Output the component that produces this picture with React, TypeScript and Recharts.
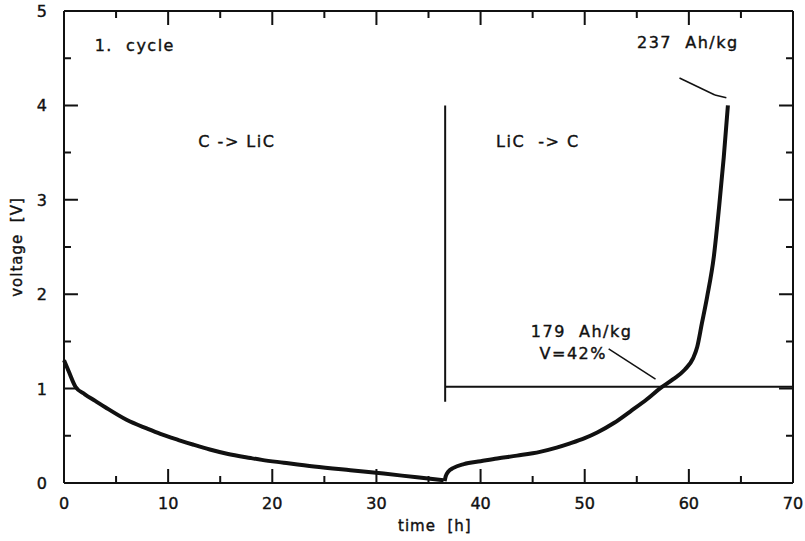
import React from 'react';
import { LineChart, Line, XAxis, YAxis, ReferenceLine } from 'recharts';

// first cycle: C -> LiC (discharge)
const dischargeTime = [0, 0.5, 1.1, 2, 3, 4, 6, 8, 9.25, 11, 12.45, 14, 15.65, 17.9, 19, 21.1, 24, 27.5, 30.7, 33.9, 36.45];
const dischargeVoltage = [1.3, 1.17, 1.02, 0.94, 0.87, 0.8, 0.67, 0.575, 0.52, 0.455, 0.405, 0.355, 0.31, 0.265, 0.245, 0.215, 0.175, 0.135, 0.1, 0.06, 0.03];

// LiC -> C (charge)
const chargeTime = [36.55, 36.65, 36.9, 37.4, 38.4, 40, 41.6, 43.5, 45.7, 47.3, 48.6, 50, 51.2, 52.8, 54.4, 56, 57.2, 58.5, 59.6, 60.4, 60.8, 61.25, 61.75, 62.4, 62.9, 63.35, 63.75];
const chargeVoltage = [0.02, 0.07, 0.12, 0.16, 0.2, 0.23, 0.26, 0.29, 0.33, 0.375, 0.42, 0.475, 0.535, 0.635, 0.76, 0.89, 1.0, 1.1, 1.2, 1.32, 1.44, 1.69, 1.97, 2.4, 2.92, 3.45, 4.0];

const xTicks = [0, 5, 10, 15, 20, 25, 30, 35, 40, 45, 50, 55, 60, 65, 70];
const yTicks = [0, 0.5, 1, 1.5, 2, 2.5, 3, 3.5, 4, 4.5, 5];

// marker lines (data units)
const switchLine = [{ x: 36.6, y: 0.86 }, { x: 36.6, y: 4.0 }];
const levelLine = [{ x: 36.6, y: 1.02 }, { x: 70, y: 1.02 }];
const leader237a = [{ x: 59.1, y: 4.29 }, { x: 62.5, y: 4.11 }];
const leader237b = [{ x: 62.5, y: 4.11 }, { x: 63.6, y: 4.08 }];
const leader179 = [{ x: 52.3, y: 1.42 }, { x: 56.8, y: 1.1 }];

// annotations
const noteTime = [6.8, 16.6, 45.5, 59.9, 49.7, 48.9];
const noteVoltage = [4.64, 3.62, 3.62, 4.67, 1.615, 1.38];
const noteText = ['1.  cycle', 'C -> LiC', 'LiC  -> C', '237  Ah/kg', '179  Ah/kg', 'V=42%'];

const discharge = dischargeTime.map((t, i) => ({ t, v: dischargeVoltage[i] }));
const charge = chargeTime.map((t, i) => ({ t, v: chargeVoltage[i] }));
const notes = noteTime.map((t, i) => ({ t, v: noteVoltage[i], text: noteText[i] }));

const X_MIN = 0, X_MAX = 70, Y_MIN = 0, Y_MAX = 5;
// inward tick lengths in axis units (~14px major, ~7px minor)
const X_TICK_MAJOR = 1.34, X_TICK_MINOR = 0.67;
const Y_TICK_MAJOR = 0.148, Y_TICK_MINOR = 0.074;

const xLen = (t: number) => (t % 10 === 0 ? Y_TICK_MAJOR : Y_TICK_MINOR);
const yLen = (v: number) => (Number.isInteger(v) ? X_TICK_MAJOR : X_TICK_MINOR);

// tick marks as broken polylines (null = gap)
const bottomTicks = xTicks.flatMap((t) => [{ t, v: Y_MIN }, { t, v: Y_MIN + xLen(t) }, { t, v: null }]);
const topTicks = xTicks.flatMap((t) => [{ t, v: Y_MAX }, { t, v: Y_MAX - xLen(t) }, { t, v: null }]);
const leftTicks = yTicks.flatMap((v) => [{ t: X_MIN, v }, { t: X_MIN + yLen(v), v }, { t: X_MIN, v: null }]);
const rightTicks = yTicks.flatMap((v) => [{ t: X_MAX, v }, { t: X_MAX - yLen(v), v }, { t: X_MAX, v: null }]);
const tickSets = [bottomTicks, topTicks, leftTicks, rightTicks];

const FONT = '"DejaVu Sans", sans-serif';
const INK = '#111';

const bottomLabel = (props: any) => {
  const { x, y, payload } = props;
  if (payload.value % 10 !== 0) return <g />;
  return (
    <text x={x} y={y + 26} textAnchor="middle" fontFamily={FONT} fontSize={16} fill={INK}
      stroke={INK} strokeWidth={0.4}>
      {payload.value}
    </text>
  );
};

const leftLabel = (props: any) => {
  const { x, y, payload } = props;
  if (!Number.isInteger(payload.value)) return <g />;
  return (
    <text x={x - 17} y={y + 6} textAnchor="end" fontFamily={FONT} fontSize={16} fill={INK}
      stroke={INK} strokeWidth={0.4}>
      {payload.value}
    </text>
  );
};

const noteDot = (p: any) => (
  <text key={p.index} x={p.cx} y={p.cy + 6} textAnchor="middle" fontFamily={FONT} fontSize={16}
    letterSpacing={1.5} fill={INK} stroke={INK} strokeWidth={0.4} style={{ whiteSpace: 'pre' }}>
    {p.payload.text}
  </text>
);

const titleStyle: React.CSSProperties = {
  position: 'absolute',
  fontFamily: FONT,
  fontSize: 15,
  letterSpacing: 1,
  color: INK,
  whiteSpace: 'pre',
  WebkitTextStroke: '0.4px #111',
  lineHeight: '18px',
};

export default function App() {
  return (
    <div style={{ position: 'absolute', left: 0, top: 0, width: 805, height: 541 }}>
      <LineChart width={805} height={541} margin={{ top: 11, right: 12, bottom: 28, left: 0 }}>
        <XAxis xAxisId="bottom" dataKey="t" type="number" domain={[X_MIN, X_MAX]} ticks={xTicks} interval={0}
          height={30} tickSize={0} tickMargin={0} tickLine={false}
          axisLine={{ stroke: INK, strokeWidth: 2 }} tick={bottomLabel} />
        <YAxis yAxisId="left" type="number" domain={[Y_MIN, Y_MAX]} ticks={yTicks} interval={0}
          width={64} tickSize={0} tickMargin={0} tickLine={false}
          axisLine={{ stroke: INK, strokeWidth: 2 }} tick={leftLabel} />

        {/* top and right frame */}
        <ReferenceLine xAxisId="bottom" yAxisId="left" y={Y_MAX} stroke={INK} strokeWidth={2} ifOverflow="visible" />
        <ReferenceLine xAxisId="bottom" yAxisId="left" x={X_MAX} stroke={INK} strokeWidth={2} ifOverflow="visible" />

        <ReferenceLine xAxisId="bottom" yAxisId="left" segment={switchLine} stroke={INK} strokeWidth={2} ifOverflow="visible" />
        <ReferenceLine xAxisId="bottom" yAxisId="left" segment={levelLine} stroke={INK} strokeWidth={2} ifOverflow="visible" />
        <ReferenceLine xAxisId="bottom" yAxisId="left" segment={leader237a} stroke={INK} strokeWidth={1.5} ifOverflow="visible" />
        <ReferenceLine xAxisId="bottom" yAxisId="left" segment={leader237b} stroke={INK} strokeWidth={1.5} ifOverflow="visible" />
        <ReferenceLine xAxisId="bottom" yAxisId="left" segment={leader179} stroke={INK} strokeWidth={1.5} ifOverflow="visible" />

        {tickSets.map((d, i) => (
          <Line key={`ticks${i}`} data={d} xAxisId="bottom" yAxisId="left" dataKey="v" type="linear"
            stroke={INK} strokeWidth={2} dot={false} activeDot={false} connectNulls={false}
            isAnimationActive={false} />
        ))}

        <Line data={discharge} xAxisId="bottom" yAxisId="left" dataKey="v" type="monotone" stroke={INK}
          strokeWidth={4} dot={false} activeDot={false} isAnimationActive={false} />
        <Line data={charge} xAxisId="bottom" yAxisId="left" dataKey="v" type="monotone" stroke={INK}
          strokeWidth={4} dot={false} activeDot={false} isAnimationActive={false} />
        <Line data={notes} xAxisId="bottom" yAxisId="left" dataKey="v" stroke="none" dot={noteDot}
          activeDot={false} isAnimationActive={false} />
      </LineChart>
      <div style={{ ...titleStyle, left: 398, top: 517 }}>{'time  [h]'}</div>
      <div style={{ ...titleStyle, left: 17, top: 247, transform: 'translate(-50%, -50%) rotate(-90deg)' }}>
        {'voltage  [V]'}
      </div>
    </div>
  );
}
